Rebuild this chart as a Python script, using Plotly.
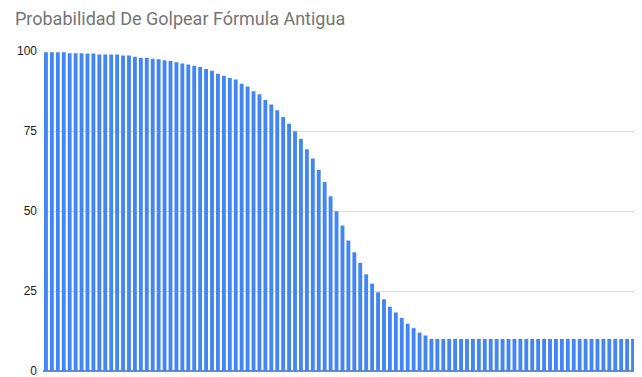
import plotly.graph_objects as go

categories = [str(i) for i in range(1, 101)]
values = [
    99.6, 99.6, 99.6, 99.6, 99.3, 99.3, 99.3, 99.2, 99.2, 98.9,
    98.9, 98.9, 98.9, 98.6, 98.6, 98.2, 97.9, 97.9, 97.6, 97.4,
    97.1, 96.9, 96.5, 96.1, 95.8, 95.4, 95.0, 94.4, 93.8, 92.9,
    92.3, 91.6, 91.1, 89.8, 88.9, 87.4, 86.5, 84.7, 83.3, 81.5,
    79.4, 77.3, 74.9, 72.5, 69.3, 66.4, 62.9, 59.1, 54.6, 49.9,
    45.5, 40.8, 37.1, 33.8, 30.2, 27.3, 24.6, 22.4, 20.1, 18.3,
    16.6, 14.8, 13.4, 12.0, 11.1, 10.0, 10.0, 10.0, 10.0, 10.0,
    10.0, 10.0, 10.0, 10.0, 10.0, 10.0, 10.0, 10.0, 10.0, 10.0,
    10.0, 10.0, 10.0, 10.0, 10.0, 10.0, 10.0, 10.0, 10.0, 10.0,
    10.0, 10.0, 10.0, 10.0, 10.0, 10.0, 10.0, 10.0, 10.0, 10.0,
]
y_ticks = [0, 25, 50, 75, 100]
title_text = "Probabilidad De Golpear Fórmula Antigua"

fig = go.Figure(
    go.Bar(
        x=categories,
        y=values,
        marker=dict(color="#4285F4", line=dict(width=0)),
        hoverinfo="x+y",
    )
)

# The page body has an 8px default margin, so the figure is sized 8px smaller
fig.update_layout(
    width=634,
    height=369,
    margin=dict(l=35, r=6, t=43, b=6, autoexpand=False),
    paper_bgcolor="white",
    plot_bgcolor="white",
    bargap=0.35,
    showlegend=False,
    title=dict(
        text=title_text,
        x=0.011,
        xanchor="left",
        y=0.972,
        yanchor="middle",
        font=dict(family="Roboto, Arial, sans-serif", size=18, color="#757575"),
    ),
    xaxis=dict(
        type="category",
        showticklabels=False,
        showgrid=False,
        zeroline=False,
        showline=False,
        ticks="",
        automargin=False,
    ),
    yaxis=dict(
        range=[0, 100],
        tickvals=y_ticks,
        ticktext=[str(t) for t in y_ticks],
        showgrid=True,
        gridcolor="#dcdcdc",
        gridwidth=1,
        zeroline=True,
        zerolinecolor="#8a8a8a",
        zerolinewidth=2,
        showline=False,
        ticks="",
        ticklabelstandoff=5,
        ticklabeloverflow="allow",
        automargin=False,
        tickfont=dict(family="Liberation Sans, Arial, sans-serif", size=12, color="#222222"),
    ),
)

fig.write_html("out.html")
